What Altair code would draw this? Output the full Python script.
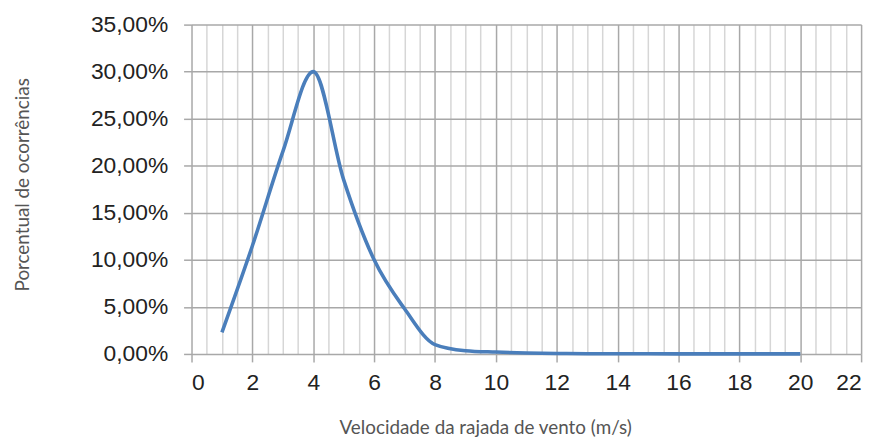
import altair as alt
import pandas as pd

speed = [1, 2, 3, 4, 5, 6, 7, 8, 9, 10, 11, 12, 13, 14, 15, 16, 17, 18, 19, 20]
pct = [0.023, 0.115, 0.215, 0.300, 0.185, 0.100, 0.048, 0.010, 0.0035, 0.002,
       0.001, 0.0005, 0.0003, 0.0002, 0.0002, 0.0001, 0.0001, 0.0001, 0.0001, 0.0001]

x_ticks = [i * 0.5 for i in range(45)]
y_ticks = [0, 0.05, 0.10, 0.15, 0.20, 0.25, 0.30, 0.35]

df = pd.DataFrame({"v": speed, "p": pct})

even = "abs(datum.value % 2) < 0.001"

chart = alt.Chart(df).mark_line(
    color="#4a7ebb", strokeWidth=3.6, interpolate="monotone"
).encode(
    x=alt.X("v:Q", scale=alt.Scale(domain=[0, 22], nice=False, zero=False),
            axis=alt.Axis(
                values=x_ticks,
                title="Velocidade da rajada de vento (m/s)",
                labelExpr=f"{even} ? format(datum.value, 'd') : ''",
                labelOverlap=False,
                labelFont="Liberation Sans", labelFontSize=23, labelColor="#222",
                labelPadding=10,
                gridColor={"condition": {"test": even, "value": "#a8a8a8"}, "value": "#d6d6d6"},
                gridWidth=1.5,
                tickSize={"condition": {"test": even, "value": 8}, "value": 0},
                tickColor="#a8a8a8", tickWidth=1.5,
                domain=False,
                titleFont="Lato", titleFontSize=19, titleFontWeight="normal",
                titleColor="#555", titleX=296, titleY=80, titleBaseline="alphabetic",
                titleAnchor="middle", titleAlign="center",
            )),
    y=alt.Y("p:Q", scale=alt.Scale(domain=[0, 0.35], nice=False),
            axis=alt.Axis(
                values=y_ticks,
                title="Porcentual de ocorrências",
                labelExpr="replace(format(datum.value, '.2%'), '.', ',')",
                labelFont="Liberation Sans", labelFontSize=23, labelColor="#222",
                labelPadding=16,
                gridColor="#a8a8a8", gridWidth=1.5,
                tickSize=8, tickColor="#a8a8a8", tickWidth=1.5,
                domain=False,
                titleFont="Lato", titleFontSize=19, titleFontWeight="normal",
                titleColor="#555", titleX=-164, titleY=161, titleAngle=-90,
                titleBaseline="alphabetic",
            )),
).properties(
    width=675, height=332,
    autosize=alt.AutoSizeParams(type="none"),
    padding={"left": 185, "top": 15, "right": 14, "bottom": 85},
).configure_view(stroke=None)

chart.save("out.html", embed_options={"renderer": "svg", "actions": False})
